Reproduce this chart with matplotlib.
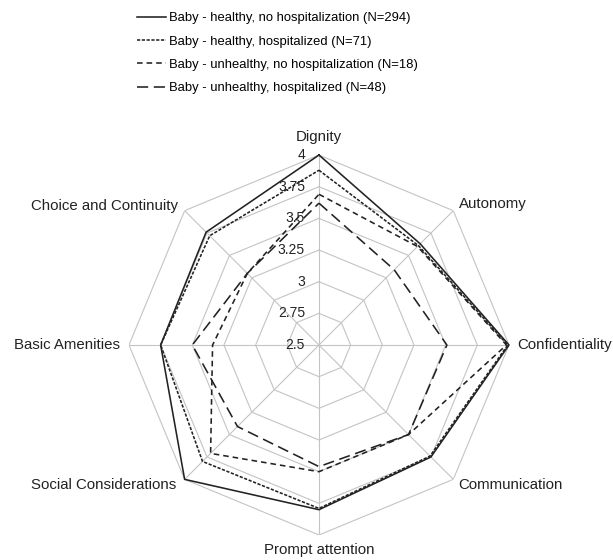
import numpy as np
import matplotlib.pyplot as plt

plt.rcParams['font.family'] = ['Liberation Sans', 'DejaVu Sans']

# categories, clockwise from the top
categories = ["Dignity", "Autonomy", "Confidentiality", "Communication",
              "Prompt attention", "Social Considerations", "Basic Amenities",
              "Choice and Continuity"]

healthy_no_hosp = [4.00, 3.63, 4.00, 3.75, 3.80, 4.00, 3.75, 3.76]
healthy_hosp = [3.88, 3.61, 3.99, 3.74, 3.79, 3.80, 3.75, 3.72]
unhealthy_no_hosp = [3.69, 3.60, 3.98, 3.50, 3.50, 3.71, 3.34, 3.30]
unhealthy_hosp = [3.62, 3.34, 3.51, 3.50, 3.46, 3.41, 3.50, 3.30]

series_labels = ["Baby - healthy, no hospitalization (N=294)",
                 "Baby - healthy, hospitalized (N=71)",
                 "Baby - unhealthy, no hospitalization (N=18)",
                 "Baby - unhealthy, hospitalized (N=48)"]

ticks = [2.5, 2.75, 3, 3.25, 3.5, 3.75, 4]
tick_labels = ["2.5", "2.75", "3", "3.25", "3.5", "3.75", "4"]

n = len(categories)
angles = np.arange(n) * 2 * np.pi / n
closed = np.append(angles, angles[0])

fig = plt.figure(figsize=(6.13, 5.60), dpi=100)
ax = fig.add_axes([0.2104, 0.0446, 0.6199, 0.6786], projection='polar')
ax.set_theta_offset(np.pi / 2)
ax.set_theta_direction(-1)
ax.set_ylim(2.5, 4)
ax.grid(False)
ax.spines['polar'].set_visible(False)
ax.set_xticks([])
ax.set_yticks([])

# octagon grid
grid_col = "#c4c4c4"
for v in ticks[1:]:
    ax.plot(closed, [v] * (n + 1), color=grid_col, lw=0.8, zorder=1)
for a in angles:
    ax.plot([a, a], [2.5, 4], color=grid_col, lw=0.8, zorder=1)

# radial tick labels on the Dignity spoke
for v, t in zip(ticks, tick_labels):
    ax.annotate(t, (0, v), xytext=(-14, 0), textcoords='offset pixels',
                ha='right', va='center', fontsize=10, color="#222222", zorder=2)

# category labels
offsets = [(0, 11, 'center', 'bottom'), (6, 7, 'left', 'center'),
           (8, 0, 'left', 'center'), (5, -6, 'left', 'center'),
           (0, -8, 'center', 'top'), (-8, -6, 'right', 'center'),
           (-9, 0, 'right', 'center'), (-7, 5, 'right', 'center')]
for a, lab, (dx, dy, ha, va) in zip(angles, categories, offsets):
    ax.annotate(lab, (a, 4), xytext=(dx, dy), textcoords='offset pixels',
                ha=ha, va=va, fontsize=10.8, color="#222222", annotation_clip=False)

line_col = "#222222"
styles = ['-', (0, (2, 1)), (0, (3.5, 2.5)), (0, (7, 3.5))]
data = [healthy_no_hosp, healthy_hosp, unhealthy_no_hosp, unhealthy_hosp]
handles = []
for vals, ls, lab in zip(data, styles, series_labels):
    h, = ax.plot(closed, vals + vals[:1], color=line_col, lw=1.15, linestyle=ls,
                 label=lab, zorder=3, clip_on=False)
    handles.append(h)

fig.legend(handles=handles, labels=series_labels, loc='upper left',
           bbox_to_anchor=(137 / 613, 1 - 12 / 560), frameon=False, fontsize=9.4,
           handlelength=2.2, handletextpad=0.25, labelspacing=0.86,
           borderpad=0, borderaxespad=0)

fig.savefig("out.png", dpi=100)
